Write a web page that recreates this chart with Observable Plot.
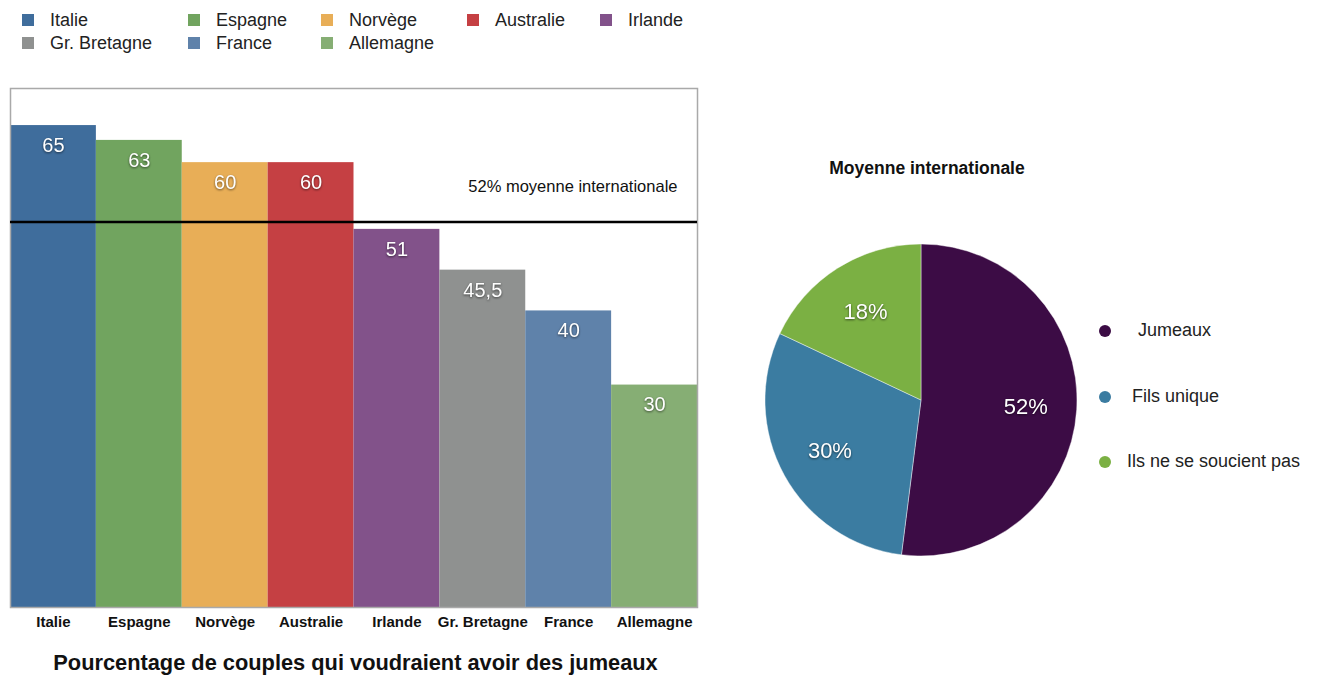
<!DOCTYPE html>
<html><head><meta charset="utf-8">
<script src="https://cdn.jsdelivr.net/npm/d3@7"></script>
<script src="https://cdn.jsdelivr.net/npm/@observablehq/plot@0.6"></script>
<style>
body{margin:0;background:#fff;font-family:"Liberation Sans",Arial,Helvetica,sans-serif;}
#root{position:relative;width:1317px;height:675px;overflow:hidden;background:#fff;}
.abs{position:absolute;}
.legtxt{position:absolute;font-size:18px;color:#222;line-height:22px;white-space:nowrap;}
.sw{position:absolute;width:12px;height:12px;}
.dot{position:absolute;width:12px;height:12px;border-radius:50%;}
.title{position:absolute;font-weight:bold;color:#111;white-space:nowrap;text-align:center;}
g[fill="white"]{filter:drop-shadow(0px 1px 1.2px rgba(0,0,0,0.55));}
</style></head><body><div id="root"></div>
<script>
// ---- data ----
const countries = ["Italie","Espagne","Norvège","Australie","Irlande","Gr. Bretagne","France","Allemagne"];
const values = [65, 63, 60, 60, 51, 45.5, 40, 30];
const valueLabels = ["65","63","60","60","51","45,5","40","30"];
const colors = ["#3f6d9c","#71a45f","#e8ae57","#c54043","#82528a","#8f9190","#5f82aa","#86ae74"];
const average = 52;
const averageLabel = "52% moyenne internationale";
const barTitle = "Pourcentage de couples qui voudraient avoir des jumeaux";

const pieTitle = "Moyenne internationale";
const pieCategories = ["Jumeaux","Fils unique","Ils ne se soucient pas"];
const pieValues = [52, 30, 18];
const pieLabels = ["52%","30%","18%"];
const pieColors = ["#3c0c45","#3b7ca1","#7bb043"];

// ---- layout ----
const root = document.getElementById("root");
const font = "Liberation Sans, Arial, Helvetica, sans-serif";

// top legend (5 columns, 2 rows)
const legCols = [22, 188, 321, 467, 600];
const legRows = [20, 43];
countries.forEach((c, i) => {
  const col = i % 5, row = Math.floor(i / 5);
  const sw = document.createElement("div");
  sw.className = "sw";
  sw.style.left = legCols[col] + "px";
  sw.style.top = (legRows[row] - 6) + "px";
  sw.style.background = colors[i];
  root.appendChild(sw);
  const t = document.createElement("div");
  t.className = "legtxt";
  t.style.left = (legCols[col] + 28) + "px";
  t.style.top = (legRows[row] - 11) + "px";
  t.textContent = c;
  root.appendChild(t);
});

// bar chart
const bars = countries.map((c, i) => ({country: c, value: values[i], label: valueLabels[i]}));
const barPlot = Plot.plot({
  width: 710, height: 560,
  marginLeft: 10, marginRight: 13, marginTop: 8, marginBottom: 33,
  x: {domain: countries, padding: 0, round: false, label: null, tickSize: 0, tickPadding: 9},
  y: {domain: [0, 70], axis: null},
  color: {domain: countries, range: colors},
  style: {fontFamily: font, fontSize: "15px", fontWeight: "bold", color: "#111", background: "transparent", overflow: "visible"},
  marks: [
    Plot.barY(bars, {x: "country", y: "value", fill: "country"}),
    Plot.frame({stroke: "#a9a9a9", strokeWidth: 1.5}),
    Plot.ruleY([average], {stroke: "#000", strokeWidth: 2.5}),
    Plot.text(bars, {x: "country", y: "value", text: "label", dy: 20, fill: "white", fontSize: 20, fontWeight: "normal"}),
    Plot.text([{label: averageLabel, value: average}], {y: "value", text: "label", frameAnchor: "right", textAnchor: "end", dx: -20, dy: -35, fontSize: 16.5, fontWeight: "normal", fill: "#111"})
  ]
});
const barWrap = document.createElement("div");
barWrap.className = "abs";
barWrap.style.left = "0px";
barWrap.style.top = "80px";
barWrap.appendChild(barPlot);
root.appendChild(barWrap);

const bt = document.createElement("div");
bt.className = "title";
bt.style.left = "0px"; bt.style.width = "711px";
bt.style.top = "651px"; bt.style.fontSize = "21.8px"; bt.style.lineHeight = "24px";
bt.textContent = barTitle;
root.appendChild(bt);

// pie chart
const pieData = pieCategories.map((c, i) => ({category: c, value: pieValues[i], label: pieLabels[i], color: pieColors[i]}));
const arcs = d3.pie().sort(null).value(d => d.value)(pieData);
const labelArc = d3.arc().innerRadius(0.67).outerRadius(0.67);
const pieLabelData = arcs.map(a => {
  const [cx, cy] = labelArc.centroid(a);
  return {label: a.data.label, x: cx, y: cy};
});
function slices(index, scales) {
  const x = scales.x, y = scales.y;
  const cx = x(0), cy = y(0), r = Math.abs(x(1) - x(0));
  const arc = d3.arc().innerRadius(0).outerRadius(r);
  const g = d3.create("svg:g").attr("transform", `translate(${cx},${cy})`);
  g.selectAll("path").data(arcs).join("path")
    .attr("d", arc)
    .attr("fill", d => d.data.color)
    .attr("stroke", "#fff").attr("stroke-width", 0.6).attr("stroke-opacity", 0.7);
  return g.node();
}
const piePlot = Plot.plot({
  width: 360, height: 340,
  marginLeft: 25, marginRight: 23, marginTop: 14, marginBottom: 14,
  x: {domain: [-1, 1], axis: null},
  y: {domain: [-1, 1], reverse: true, axis: null},
  style: {fontFamily: font, background: "transparent", overflow: "visible"},
  marks: [
    slices,
    Plot.text(pieLabelData, {x: "x", y: "y", text: "label", fill: "white", fontSize: 22})
  ]
});
const pieWrap = document.createElement("div");
pieWrap.className = "abs";
pieWrap.style.left = "740px";
pieWrap.style.top = "230px";
pieWrap.appendChild(piePlot);
root.appendChild(pieWrap);

const pt = document.createElement("div");
pt.className = "title";
pt.style.left = "777px"; pt.style.width = "300px";
pt.style.top = "157px"; pt.style.fontSize = "17.5px"; pt.style.lineHeight = "22px";
pt.textContent = pieTitle;
root.appendChild(pt);

// pie legend
const pieLegY = [331, 397, 462];
const pieLegX = [1138, 1132, 1127];
pieCategories.forEach((c, i) => {
  const d = document.createElement("div");
  d.className = "dot";
  d.style.left = "1099px";
  d.style.top = (pieLegY[i] - 6) + "px";
  d.style.background = pieColors[i];
  root.appendChild(d);
  const t = document.createElement("div");
  t.className = "legtxt";
  t.style.left = pieLegX[i] + "px";
  t.style.top = (pieLegY[i] - 12) + "px";
  t.textContent = c;
  root.appendChild(t);
});
</script></body></html>
